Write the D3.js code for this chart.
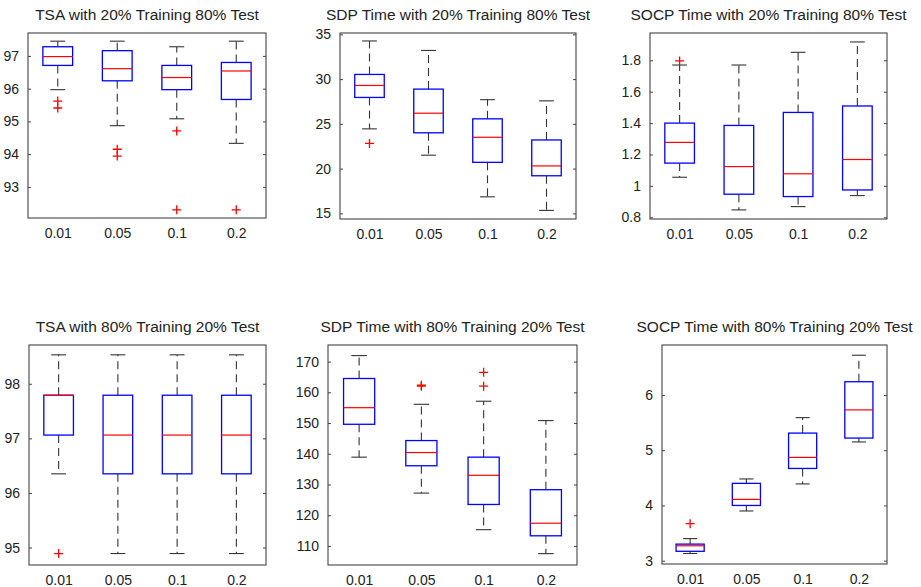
<!DOCTYPE html>
<html>
<head>
<meta charset="utf-8">
<script src="https://cdn.jsdelivr.net/npm/d3@7"></script>
<style>
  body { margin: 0; background: #fff; }
  svg { display: block; font-family: "Liberation Sans", Arial, sans-serif; }
</style>
</head>
<body>
<svg id="chart" width="921" height="587"></svg>
<script>
// categories shared by all six panels
const categories = ["0.01", "0.05", "0.1", "0.2"];

// each box: [lower whisker, q1, median, q3, upper whisker]
const tsa20Boxes = [
  [95.97, 96.71, 96.98, 97.28, 97.45],
  [94.87, 96.24, 96.61, 97.16, 97.45],
  [95.08, 95.97, 96.34, 96.71, 97.28],
  [94.33, 95.67, 96.54, 96.80, 97.45]
];
const tsa20Outliers = [[0, 95.62], [0, 95.41], [1, 94.15], [1, 93.94], [2, 94.71], [2, 92.30], [3, 92.30]];
const tsa20Ticks = [93, 94, 95, 96, 97];

const sdp20Boxes = [
  [24.44, 27.95, 29.29, 30.52, 34.26],
  [21.5, 24.0, 26.19, 28.88, 33.2],
  [16.85, 20.7, 23.5, 25.56, 27.7],
  [15.33, 19.2, 20.3, 23.2, 27.57]
];
const sdp20Outliers = [[0, 22.81]];
const sdp20Ticks = [15, 20, 25, 30, 35];

const socp20Boxes = [
  [1.055, 1.145, 1.277, 1.40, 1.77],
  [0.847, 0.947, 1.123, 1.385, 1.77],
  [0.868, 0.932, 1.077, 1.468, 1.851],
  [0.938, 0.974, 1.168, 1.509, 1.917]
];
const socp20Outliers = [[0, 1.796]];
const socp20Ticks = [0.8, 1, 1.2, 1.4, 1.6, 1.8];

const tsa80Boxes = [
  [96.35, 97.06, 97.79, 97.79, 98.53],
  [94.89, 96.35, 97.06, 97.79, 98.53],
  [94.89, 96.35, 97.06, 97.79, 98.53],
  [94.89, 96.35, 97.06, 97.79, 98.53]
];
const tsa80Outliers = [[0, 94.89]];
const tsa80Ticks = [95, 96, 97, 98];

const sdp80Boxes = [
  [138.9, 149.6, 155.0, 164.5, 171.95],
  [127.2, 136.1, 140.4, 144.3, 156.1],
  [115.3, 123.5, 133.0, 138.9, 157.1],
  [107.5, 113.3, 117.4, 128.3, 150.8]
];
const sdp80Outliers = [[1, 162.0], [1, 162.3], [2, 166.5], [2, 162.0]];
const sdp80Ticks = [110, 120, 130, 140, 150, 160, 170];

const socp80Boxes = [
  [3.13, 3.17, 3.27, 3.30, 3.40],
  [3.90, 4.00, 4.11, 4.40, 4.48],
  [4.39, 4.67, 4.87, 5.31, 5.59],
  [5.15, 5.22, 5.73, 6.24, 6.72]
];
const socp80Outliers = [[0, 3.67]];
const socp80Ticks = [3, 4, 5, 6];

const titles = [
  "TSA with 20% Training 80% Test",
  "SDP Time with 20% Training 80% Test",
  "SOCP Time with 20% Training 80% Test",
  "TSA with 80% Training 20% Test",
  "SDP Time with 80% Training 20% Test",
  "SOCP Time with 80% Training 20% Test"
];

const panels = [
  { box: [28, 33, 266, 218], domain: [92.05, 97.7], boxes: tsa20Boxes, outliers: tsa20Outliers, ticks: tsa20Ticks },
  { box: [340, 33, 576, 219], domain: [14.37, 35.15], boxes: sdp20Boxes, outliers: sdp20Outliers, ticks: sdp20Ticks },
  { box: [650, 33, 887, 219], domain: [0.789, 1.974], boxes: socp20Boxes, outliers: socp20Outliers, ticks: socp20Ticks },
  { box: [29, 345, 266, 565], domain: [94.68, 98.71], boxes: tsa80Boxes, outliers: tsa80Outliers, ticks: tsa80Ticks },
  { box: [328, 345, 577, 565], domain: [103.8, 175.4], boxes: sdp80Boxes, outliers: sdp80Outliers, ticks: sdp80Ticks },
  { box: [662, 345, 887, 564], domain: [2.94, 6.905], boxes: socp80Boxes, outliers: socp80Outliers, ticks: socp80Ticks }
];

const svg = d3.select("#chart");

panels.forEach((p, i) => drawPanel(p, titles[i]));

function drawPanel(p, title) {
  const [x0, y0, x1, y1] = p.box;
  const w = x1 - x0, h = y1 - y0;
  const g = svg.append("g").attr("transform", `translate(${x0},${y0})`);

  const x = d3.scaleLinear().domain([0.5, 4.5]).range([0, w]);
  const y = d3.scaleLinear().domain(p.domain).range([h, 0]);
  const unit = x(1) - x(0);

  // y ticks, inside the frame on both sides
  const left = d3.axisLeft(y).tickValues(p.ticks).tickSize(-3).tickPadding(9).tickFormat(d3.format("~g"));
  const right = d3.axisRight(y).tickValues(p.ticks).tickSize(-3).tickFormat("");
  g.append("g").call(left).call(styleAxis);
  g.append("g").attr("transform", `translate(${w},0)`).call(right).call(styleAxis);

  // category labels under the frame
  const bottom = d3.axisBottom(x).tickValues([1, 2, 3, 4]).tickSize(0).tickPadding(9)
    .tickFormat((d) => categories[d - 1]);
  g.append("g").attr("transform", `translate(0,${h})`).call(bottom).call(styleAxis)
    .selectAll("text").attr("dy", "0.75em");

  g.append("rect").attr("width", w).attr("height", h)
    .attr("fill", "none").attr("stroke", "#444").attr("stroke-width", 1.1);

  const boxes = g.selectAll(".bx").data(p.boxes).enter().append("g").attr("class", "bx");
  const cx = (_, i) => x(i + 1);

  // dashed whiskers
  boxes.append("line").attr("x1", cx).attr("x2", cx)
    .attr("y1", (d) => y(d[3])).attr("y2", (d) => y(d[4]))
    .attr("stroke", "#333").attr("stroke-width", 1.1).attr("stroke-dasharray", "8,5");
  boxes.append("line").attr("x1", cx).attr("x2", cx)
    .attr("y1", (d) => y(d[1])).attr("y2", (d) => y(d[0]))
    .attr("stroke", "#333").attr("stroke-width", 1.1).attr("stroke-dasharray", "8,5");

  // whisker caps
  [0, 4].forEach((k) => {
    boxes.append("line")
      .attr("x1", (_, i) => x(i + 1) - unit * 0.125).attr("x2", (_, i) => x(i + 1) + unit * 0.125)
      .attr("y1", (d) => y(d[k])).attr("y2", (d) => y(d[k]))
      .attr("stroke", "#333").attr("stroke-width", 1.1);
  });

  boxes.append("rect")
    .attr("x", (_, i) => x(i + 1) - unit * 0.25).attr("width", unit * 0.5)
    .attr("y", (d) => y(d[3])).attr("height", (d) => y(d[1]) - y(d[3]))
    .attr("fill", "#fff").attr("stroke", "#0000ff").attr("stroke-width", 1.3);

  boxes.append("line")
    .attr("x1", (_, i) => x(i + 1) - unit * 0.25).attr("x2", (_, i) => x(i + 1) + unit * 0.25)
    .attr("y1", (d) => y(d[2])).attr("y2", (d) => y(d[2]))
    .attr("stroke", "#ff0000").attr("stroke-width", 1.2);

  // outliers as red plus signs
  g.selectAll(".out").data(p.outliers).enter().append("path").attr("class", "out")
    .attr("d", (d) => {
      const px = x(d[0] + 1), py = y(d[1]), r = 4.5;
      return `M${px - r},${py}H${px + r}M${px},${py - r}V${py + r}`;
    })
    .attr("stroke", "#ff0000").attr("stroke-width", 1.3).attr("fill", "none");

  svg.append("text").attr("x", x0 + w / 2).attr("y", y0 - 13)
    .attr("text-anchor", "middle").attr("font-size", 15.5).attr("fill", "#222")
    .text(title);
}

function styleAxis(sel) {
  sel.select(".domain").remove();
  sel.selectAll(".tick line").attr("stroke", "#444");
  sel.selectAll("text").attr("font-size", 14).attr("fill", "#222")
    .attr("font-family", "'Liberation Sans', Arial, sans-serif");
}
</script>
</body>
</html>
